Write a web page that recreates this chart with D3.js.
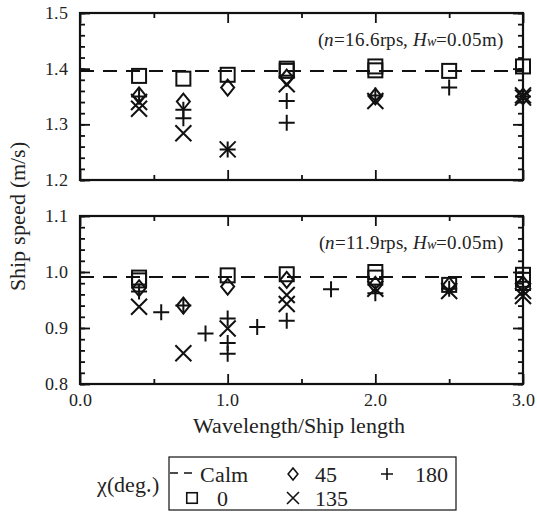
<!DOCTYPE html>
<html>
<head>
<meta charset="utf-8">
<script src="https://cdn.jsdelivr.net/npm/d3@7"></script>
<style>
  @font-face {
    font-family: "PlotSerif";
    font-style: normal;
    font-weight: 400;
    src: local("Liberation Serif"), local("LiberationSerif"), local("Times New Roman"),
         local("Nimbus Roman Regular"), local("NimbusRoman-Regular"), local("FreeSerif"), local("Tinos");
  }
  @font-face {
    font-family: "PlotSerif";
    font-style: italic;
    font-weight: 400;
    src: local("Liberation Serif Italic"), local("LiberationSerif-Italic"), local("Times New Roman Italic"),
         local("Nimbus Roman Italic"), local("FreeSerifItalic");
  }
  body { margin: 0; background: #fff; }
  svg text { font-family: PlotSerif, "Times New Roman", Tinos, "Nimbus Roman", FreeSerif, "Liberation Serif", serif; }
</style>
</head>
<body>
<div class="c-chart"></div>
<script>
// ---- data ----
var xTicks = [0, 1, 2, 3];
var calmTop = 1.396;
var calmBottom = 0.991;

// top panel: n = 16.6 rps
var topSquare = [[0.4, 1.387], [0.7, 1.382], [1.0, 1.389], [1.4, 1.400], [1.4, 1.396], [2.0, 1.404], [2.0, 1.397], [2.5, 1.396], [3.0, 1.404]];
var topDiamond = [[0.4, 1.352], [0.7, 1.341], [1.0, 1.366], [1.4, 1.384], [2.0, 1.350], [3.0, 1.350]];
var topCross = [[0.4, 1.340], [0.4, 1.328], [0.7, 1.284], [1.0, 1.255], [1.4, 1.372], [2.0, 1.342], [3.0, 1.348], [3.0, 1.352]];
var topPlus = [[0.4, 1.350], [0.7, 1.326], [0.7, 1.311], [1.0, 1.255], [1.4, 1.342], [1.4, 1.303], [2.0, 1.352], [2.5, 1.366], [3.0, 1.350]];

// bottom panel: n = 11.9 rps
var botSquare = [[0.4, 0.990], [0.4, 0.985], [1.0, 0.994], [1.4, 0.996], [2.0, 1.000], [2.0, 0.990], [2.5, 0.977], [3.0, 0.995], [3.0, 0.986]];
var botDiamond = [[0.4, 0.971], [0.7, 0.940], [1.0, 0.974], [1.4, 0.986], [2.0, 0.977], [2.5, 0.976], [3.0, 0.978]];
var botCross = [[0.4, 0.938], [0.7, 0.855], [1.0, 0.899], [1.4, 0.959], [1.4, 0.943], [2.0, 0.970], [2.5, 0.966], [3.0, 0.957], [3.0, 0.966]];
var botPlus = [[0.4, 0.965], [0.55, 0.928], [0.7, 0.940], [0.85, 0.890], [1.0, 0.917], [1.0, 0.873], [1.0, 0.854], [1.2, 0.902], [1.4, 0.913], [1.7, 0.969], [2.0, 0.962], [2.5, 0.970], [3.0, 0.968]];

var legendItems = [
    { key: "calm", label: "Calm", col: 0, row: 0 },
    { key: "square", label: "0", col: 0, row: 1 },
    { key: "diamond", label: "45", col: 1, row: 0 },
    { key: "cross", label: "135", col: 1, row: 1 },
    { key: "plus", label: "180", col: 2, row: 0 }
];

var W = 537, H = 512;
var left = 80, right = 523;
var serif = "PlotSerif, 'Times New Roman', Tinos, 'Nimbus Roman', FreeSerif, 'Liberation Serif', serif";

var svg = d3.select(".c-chart").append("svg")
    .attr("width", W)
    .attr("height", H)
    .attr("font-family", serif);

var xScale = d3.scaleLinear().domain([0, 3]).range([left, right]);

function label(parent, size) {
    return parent.append("text")
        .attr("font-family", serif)
        .style("font-family", serif)
        .style("font-size", size + "px")
        .attr("fill", "#222");
}

function marker(g, type, cx, cy, k) {
    k = k || 1;
    if (type === "square") {
        var s = 7 * k;
        g.append("rect").attr("x", cx - s).attr("y", cy - s)
            .attr("width", 2 * s).attr("height", 2 * s);
    } else if (type === "diamond") {
        var a = 6.5 * k, b = 8 * k;
        g.append("path").attr("d", "M" + cx + "," + (cy - b) + "L" + (cx + a) + "," + cy +
            "L" + cx + "," + (cy + b) + "L" + (cx - a) + "," + cy + "Z");
    } else if (type === "cross") {
        var c = 8 * k;
        g.append("path").attr("d", "M" + (cx - c) + "," + (cy - c) + "L" + (cx + c) + "," + (cy + c) +
            "M" + (cx - c) + "," + (cy + c) + "L" + (cx + c) + "," + (cy - c));
    } else if (type === "plus") {
        var p = 8 * k;
        g.append("path").attr("d", "M" + (cx - p) + "," + cy + "L" + (cx + p) + "," + cy +
            "M" + cx + "," + (cy - p) + "L" + cx + "," + (cy + p));
    }
}

function drawPanel(top, bottom, yDomain, calm, series, note) {
    var yScale = d3.scaleLinear().domain(yDomain).range([bottom, top]);
    var g = svg.append("g");
    var major = d3.range(yDomain[0], yDomain[1] + 0.001, 0.1);
    var minor = d3.range(yDomain[0], yDomain[1] + 0.001, 0.02);

    // ticks point inward on all four sides
    g.append("g").attr("transform", "translate(" + left + ",0)")
        .call(d3.axisRight(yScale).tickValues(minor).tickSize(5).tickFormat(""));
    g.append("g").attr("transform", "translate(" + right + ",0)")
        .call(d3.axisLeft(yScale).tickValues(minor).tickSize(5).tickFormat(""));
    g.append("g").attr("transform", "translate(" + left + ",0)")
        .call(d3.axisRight(yScale).tickValues(major).tickSize(10).tickFormat(""));
    g.append("g").attr("transform", "translate(" + right + ",0)")
        .call(d3.axisLeft(yScale).tickValues(major).tickSize(10).tickFormat(""));
    g.append("g").attr("transform", "translate(0," + bottom + ")")
        .call(d3.axisTop(xScale).tickValues([0.5, 1.5, 2.5]).tickSize(5).tickFormat(""));
    g.append("g").attr("transform", "translate(0," + top + ")")
        .call(d3.axisBottom(xScale).tickValues([0.5, 1.5, 2.5]).tickSize(5).tickFormat(""));
    g.append("g").attr("transform", "translate(0," + bottom + ")")
        .call(d3.axisTop(xScale).tickValues(xTicks).tickSize(10).tickFormat(""));
    g.append("g").attr("transform", "translate(0," + top + ")")
        .call(d3.axisBottom(xScale).tickValues(xTicks).tickSize(10).tickFormat(""));
    g.selectAll(".domain").remove();
    g.selectAll(".tick line").attr("stroke", "#111").attr("stroke-width", 1.8);

    g.append("rect")
        .attr("x", left).attr("y", top)
        .attr("width", right - left).attr("height", bottom - top)
        .attr("fill", "none").attr("stroke", "#111").attr("stroke-width", 2.2);

    major.forEach(function(d) {
        label(g, 18)
            .attr("x", left - 12)
            .attr("y", yScale(d) + 6)
            .attr("text-anchor", "end")
            .text(d.toFixed(1));
    });

    // calm water line
    g.append("line")
        .attr("x1", left).attr("x2", right)
        .attr("y1", yScale(calm)).attr("y2", yScale(calm))
        .attr("stroke", "#111").attr("stroke-width", 2)
        .attr("stroke-dasharray", "14,9");

    var mg = g.append("g").attr("fill", "none").attr("stroke", "#111").attr("stroke-width", 2);
    series.forEach(function(s) {
        s.data.forEach(function(d) {
            marker(mg, s.type, xScale(d[0]), yScale(d[1]));
        });
    });

    var t = label(g, 19)
        .attr("x", right - 20).attr("y", top + 33)
        .attr("text-anchor", "end");
    t.append("tspan").text("(");
    t.append("tspan").style("font-style", "italic").text("n");
    t.append("tspan").text("=" + note + "rps, ");
    t.append("tspan").style("font-style", "italic").text("H");
    t.append("tspan").style("font-style", "italic").style("font-size", "14px").text("w");
    t.append("tspan").text("=0.05m)");

    return yScale;
}

drawPanel(13, 180, [1.2, 1.5], calmTop, [
    { type: "square", data: topSquare },
    { type: "diamond", data: topDiamond },
    { type: "cross", data: topCross },
    { type: "plus", data: topPlus }
], "16.6");

drawPanel(216, 384, [0.8, 1.1], calmBottom, [
    { type: "square", data: botSquare },
    { type: "diamond", data: botDiamond },
    { type: "cross", data: botCross },
    { type: "plus", data: botPlus }
], "11.9");

xTicks.forEach(function(d) {
    label(svg, 18)
        .attr("x", xScale(d))
        .attr("y", 406)
        .attr("text-anchor", "middle")
        .text(d.toFixed(1));
});

label(svg, 22)
    .attr("x", (left + right) / 2 - 3).attr("y", 433)
    .attr("text-anchor", "middle")
    .text("Wavelength/Ship length");

label(svg, 22)
    .attr("transform", "translate(25,216) rotate(-90)")
    .attr("text-anchor", "middle")
    .text("Ship speed (m/s)");

// legend
var lg = svg.append("g");
label(lg, 22).attr("x", 97).attr("y", 492).text("χ(deg.)");
lg.append("rect").attr("x", 169).attr("y", 457).attr("width", 287).attr("height", 53)
    .attr("fill", "none").attr("stroke", "#111").attr("stroke-width", 1.2);

var colX = [181, 293, 387];
var textX = [200, 315, 415];
var rowY = [474, 498];
legendItems.forEach(function(it) {
    var cx = colX[it.col], cy = rowY[it.row];
    if (it.key === "calm") {
        lg.append("line").attr("x1", cx - 11).attr("x2", cx + 12).attr("y1", cy - 1).attr("y2", cy - 1)
            .attr("stroke", "#111").attr("stroke-width", 1.5).attr("stroke-dasharray", "8,6");
    } else {
        var mg = lg.append("g").attr("fill", "none").attr("stroke", "#111").attr("stroke-width", 1.6);
        marker(mg, it.key, cx + (it.key === "square" ? 11 : 0), cy, 0.75);
    }
    label(lg, 22).attr("x", textX[it.col] + (it.key === "square" ? 17 : 0)).attr("y", cy + 8)
        .text(it.label);
});
</script>
</body>
</html>
